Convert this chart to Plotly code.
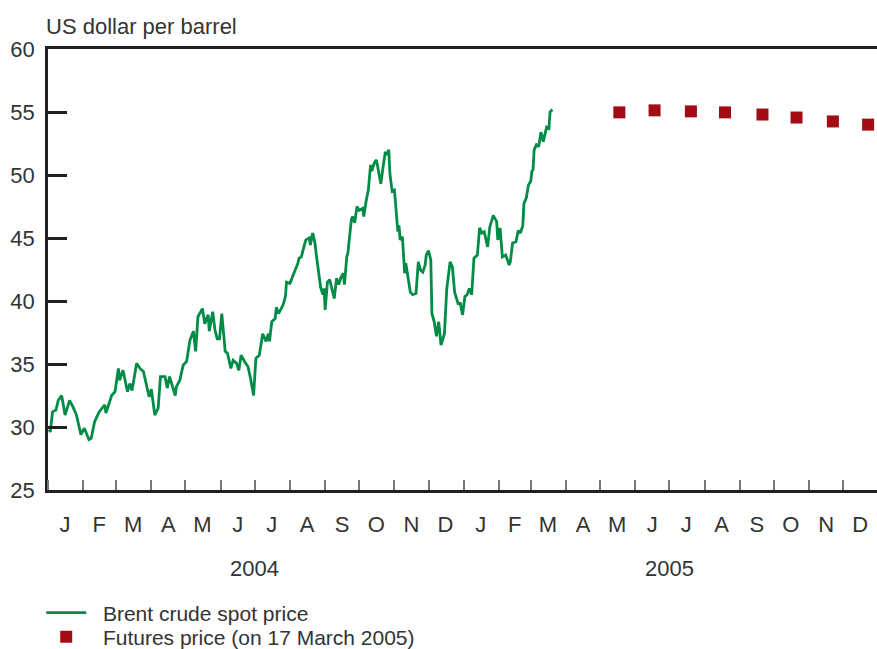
import datetime as dt
import plotly.graph_objects as go

# ---- data -------------------------------------------------------------
BASE = dt.date(2004, 1, 1)
spot_day = [1, 2, 4, 7, 9, 12, 15, 19, 22, 25, 29, 32, 36, 38, 41, 45, 50, 51, 56, 59,
            62, 63, 66, 70, 72, 74, 78, 81, 84, 87, 89, 91, 94, 97, 99, 103, 105, 107, 112, 113,
            116, 119, 122, 125, 128, 130, 132, 136, 138, 141, 142, 145, 147, 149, 151, 153, 156, 158, 161, 163,
            166, 168, 170, 173, 176, 178, 181, 183, 186, 188, 189, 192, 194, 195, 197, 200, 201, 203, 207, 209,
            210, 213, 216, 217, 219, 220, 221, 223, 225, 227, 230, 231, 233, 235, 236, 238, 240, 242, 243, 244,
            246, 248, 250, 252, 254, 256, 258, 260, 261, 263, 264, 266, 267, 268, 270, 272, 274, 277, 278, 280,
            282, 284, 285, 287, 289, 290, 293, 295, 297, 298, 300, 301, 303, 305, 307, 308, 309, 310, 312, 313,
            314, 315, 317, 319, 321, 324, 326, 328, 330, 332, 333, 335, 337, 338, 340, 342, 344, 346, 349, 351,
            354, 356, 358, 361, 363, 365, 367, 369, 371, 373, 375, 378, 380, 382, 384, 387, 389, 392, 395, 396,
            398, 400, 403, 406, 407, 409, 412, 414, 416, 418, 419, 421, 423, 425, 426, 427, 428, 430, 432, 434,
            436, 438, 439, 441, 442, 444]
spot_price = [29.8, 29.6, 31.2, 31.35, 32.1, 32.5, 30.95, 32.1, 31.6, 30.95, 29.4, 29.9, 29.0, 29.1, 30.4, 31.2, 31.75, 31.1, 32.5, 32.8,
              34.65, 33.7, 34.5, 32.8, 33.45, 32.9, 35.05, 34.65, 34.4, 33.1, 32.4, 33.0, 30.95, 31.5, 34.0, 34.0, 33.1, 34.0, 32.5, 33.2,
              33.7, 34.9, 35.2, 36.9, 37.6, 36.0, 38.75, 39.4, 38.2, 38.9, 37.6, 39.15, 37.7, 37.0, 37.0, 39.0, 36.0, 35.85, 34.65, 35.3,
              35.05, 34.5, 35.7, 35.2, 34.8, 34.0, 32.5, 35.45, 35.7, 36.8, 37.4, 36.8, 37.4, 36.8, 38.35, 38.6, 39.5, 39.0, 39.7, 40.35,
              41.5, 41.4, 42.1, 42.2, 42.8, 43.0, 43.4, 43.5, 44.2, 44.85, 45.0, 44.45, 45.4, 44.6, 43.8, 42.6, 41.1, 40.5, 41.0, 39.3,
              41.5, 41.7, 40.9, 40.2, 41.8, 41.3, 41.9, 42.2, 41.3, 43.5, 43.8, 45.6, 46.4, 46.7, 46.2, 47.5, 47.2, 47.35, 46.7, 47.9,
              48.8, 50.8, 50.3, 50.9, 51.2, 50.8, 49.3, 50.65, 51.85, 51.6, 52.0, 50.1, 48.7, 48.8, 46.3, 45.5, 46.0, 44.85, 45.1, 43.9,
              42.2, 43.0, 41.9, 40.7, 40.5, 40.6, 43.1, 42.45, 42.3, 42.85, 43.65, 44.0, 43.25, 39.0, 38.35, 37.2, 38.35, 36.5, 37.4, 40.9,
              43.1, 42.7, 40.7, 39.8, 39.8, 38.9, 40.35, 40.5, 41.0, 40.5, 43.4, 43.65, 45.8, 45.4, 45.5, 44.3, 45.9, 46.8, 46.3, 44.85,
              45.8, 43.5, 43.65, 42.85, 43.1, 44.6, 44.7, 45.6, 45.4, 46.0, 47.75, 48.15, 49.2, 49.5, 50.3, 50.4, 52.0, 52.4, 52.25, 53.4,
              52.65, 53.4, 53.8, 53.7, 55.0, 55.2]

futures_dates = ["2005-05-18", "2005-06-18", "2005-07-20", "2005-08-19",
                 "2005-09-21", "2005-10-21", "2005-11-22", "2005-12-23"]
futures_price = [54.97, 55.13, 55.05, 54.97, 54.8, 54.56, 54.25, 54.0]

month_letters = ["J", "F", "M", "A", "M", "J", "J", "A", "S", "O", "N", "D"]
years = [2004, 2005]
y_ticks = [25, 30, 35, 40, 45, 50, 55, 60]

# ---- derived ----------------------------------------------------------
spot_dates = [BASE + dt.timedelta(days=d) for d in spot_day]

month_starts, month_mids, month_text = [], [], []
for y in years:
    for m in range(1, 13):
        start = dt.date(y, m, 1)
        nxt = dt.date(y + (m == 12), m % 12 + 1, 1)
        month_starts.append(start)
        month_mids.append(start + (nxt - start) / 2)
        month_text.append(month_letters[m - 1])

TXT = "#333333"
AX = "#231F20"
FONT = "Liberation Sans, Arial, sans-serif"
FS = 22
PAD = "\u00a0\u00a0"  # small gap between legend symbol and its text

fig = go.Figure()
fig.add_trace(go.Scatter(
    x=spot_dates, y=spot_price, mode="lines", name=PAD + "Brent crude spot price",
    line=dict(color="#008C46", width=2.8), legend="legend"))
fig.add_trace(go.Scatter(
    x=futures_dates, y=futures_price, mode="markers",
    name=PAD + "Futures price (on 17 March 2005)",
    marker=dict(symbol="square", size=12, color="#A30C14"), legend="legend2"))

leg_common = dict(xref="container", yref="container", xanchor="left", yanchor="middle",
                  bgcolor="rgba(0,0,0,0)", font=dict(size=21, color=TXT), itemwidth=40)
fig.update_layout(
    width=877, height=649,
    margin=dict(l=48, r=0, t=49, b=159, autoexpand=False),
    paper_bgcolor="white", plot_bgcolor="white",
    font=dict(family=FONT, size=FS, color=TXT),
    showlegend=True,
    legend=dict(x=0.047, y=1 - 613 / 649, **leg_common),
    legend2=dict(x=0.047, y=1 - 637 / 649, **leg_common),
)

fig.update_xaxes(
    type="date",
    range=["2004-01-01", "2005-12-30 20:00"],
    showline=True, linewidth=2.5, linecolor=AX, mirror=True,
    showgrid=False, zeroline=False,
    tickmode="array", tickvals=month_mids, ticktext=month_text,
    ticks="", ticklabelstandoff=13,
    tickfont=dict(size=FS, color=TXT),
    minor=dict(tickmode="array", tickvals=month_starts, ticks="inside",
               ticklen=10, tickwidth=2, tickcolor="#777777", showgrid=False),
)
fig.update_yaxes(
    range=[25, 60], tickmode="array", tickvals=y_ticks,
    showline=True, linewidth=2.5, linecolor=AX,
    showgrid=False, zeroline=False,
    ticks="inside", ticklen=19, tickwidth=2.5, tickcolor=AX,
    ticklabelstandoff=6,
    tickfont=dict(size=FS, color=TXT),
)

for y in years:
    fig.add_annotation(x=dt.date(y, 7, 1), xref="x", y=-0.177, yref="paper",
                       text=str(y), showarrow=False, yanchor="middle",
                       font=dict(size=FS, color=TXT))

fig.add_annotation(x=0, xref="paper", y=1, yref="paper", xanchor="left", yanchor="bottom",
                   xshift=-4, yshift=8,
                   text="US dollar per barrel", showarrow=False,
                   font=dict(size=FS, color=TXT))

fig.write_html("out.html", config={"displayModeBar": False},
               post_script="document.body.style.margin='0px';")
